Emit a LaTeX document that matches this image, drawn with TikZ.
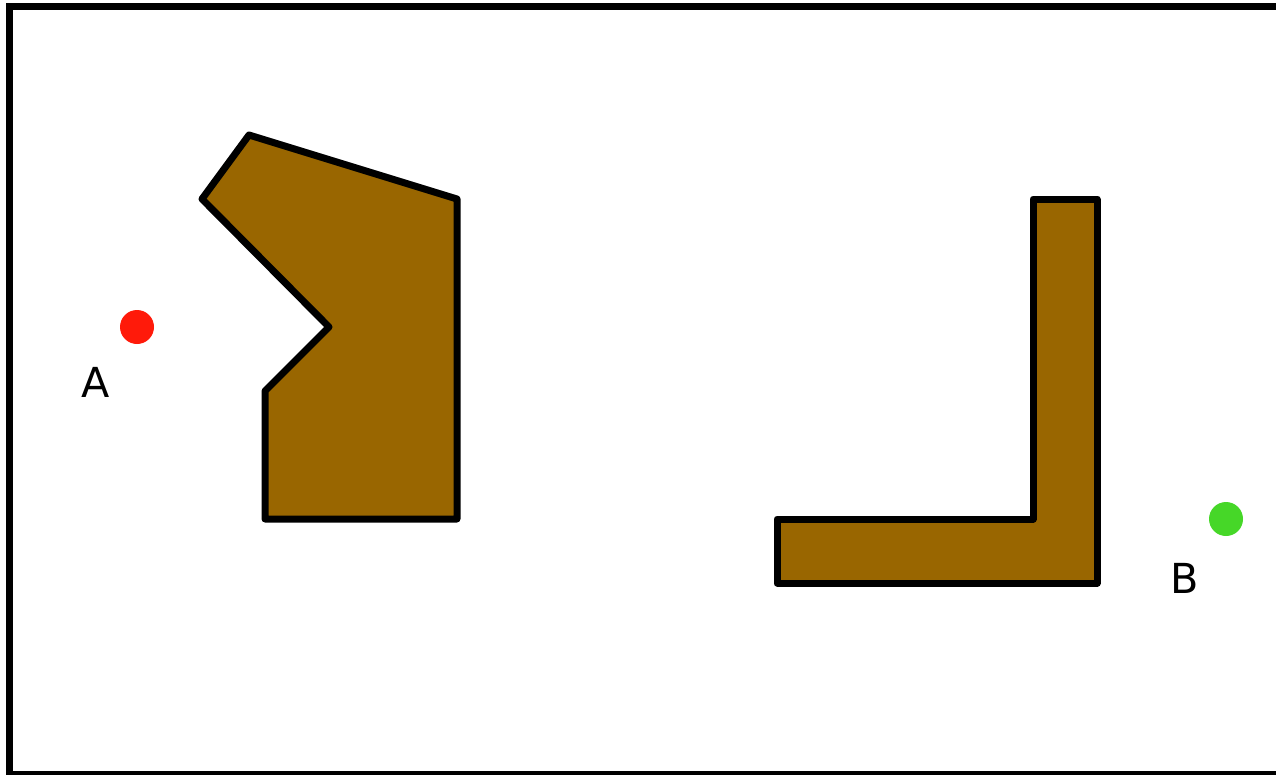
\documentclass[tikz,border=0pt]{standalone}
\usepackage{fontspec}
\setmainfont{DejaVu Sans}
\definecolor{wall}{RGB}{153,102,0}
\definecolor{ptA}{RGB}{255,26,10}
\definecolor{ptB}{RGB}{70,215,40}
\begin{document}
\begin{tikzpicture}[x=0.75pt,y=-0.75pt,
  obstacle/.style={draw=black,fill=wall,line width=5.25pt,line join=round},
  dot/.style={circle,inner sep=0pt,minimum size=25.5pt},
  lbl/.style={font=\fontsize{31}{31}\selectfont,inner sep=0pt}]
\useasboundingbox (0,0) rectangle (1276,774);
\begin{scope}
\clip (0,0) rectangle (1276,774);
\draw[line width=5.25pt] (9.5,6.5) rectangle (1290,774);
\end{scope}
\draw[obstacle] (249,135) -- (457,199) -- (457,519) -- (265,519) -- (265,391) -- (329,327) -- (202,199) -- cycle;
\draw[obstacle] (777,519) -- (1033,519) -- (1033,199) -- (1097,199) -- (1097,583) -- (777,583) -- cycle;
\node[dot,fill=ptA] (A) at (137,327) {};
\node[dot,fill=ptB] (B) at (1226,519) {};
\node[lbl] (la) at (96,382) {A};
\node[lbl] (lb) at (1185,578) {B};
\end{tikzpicture}
\end{document}
